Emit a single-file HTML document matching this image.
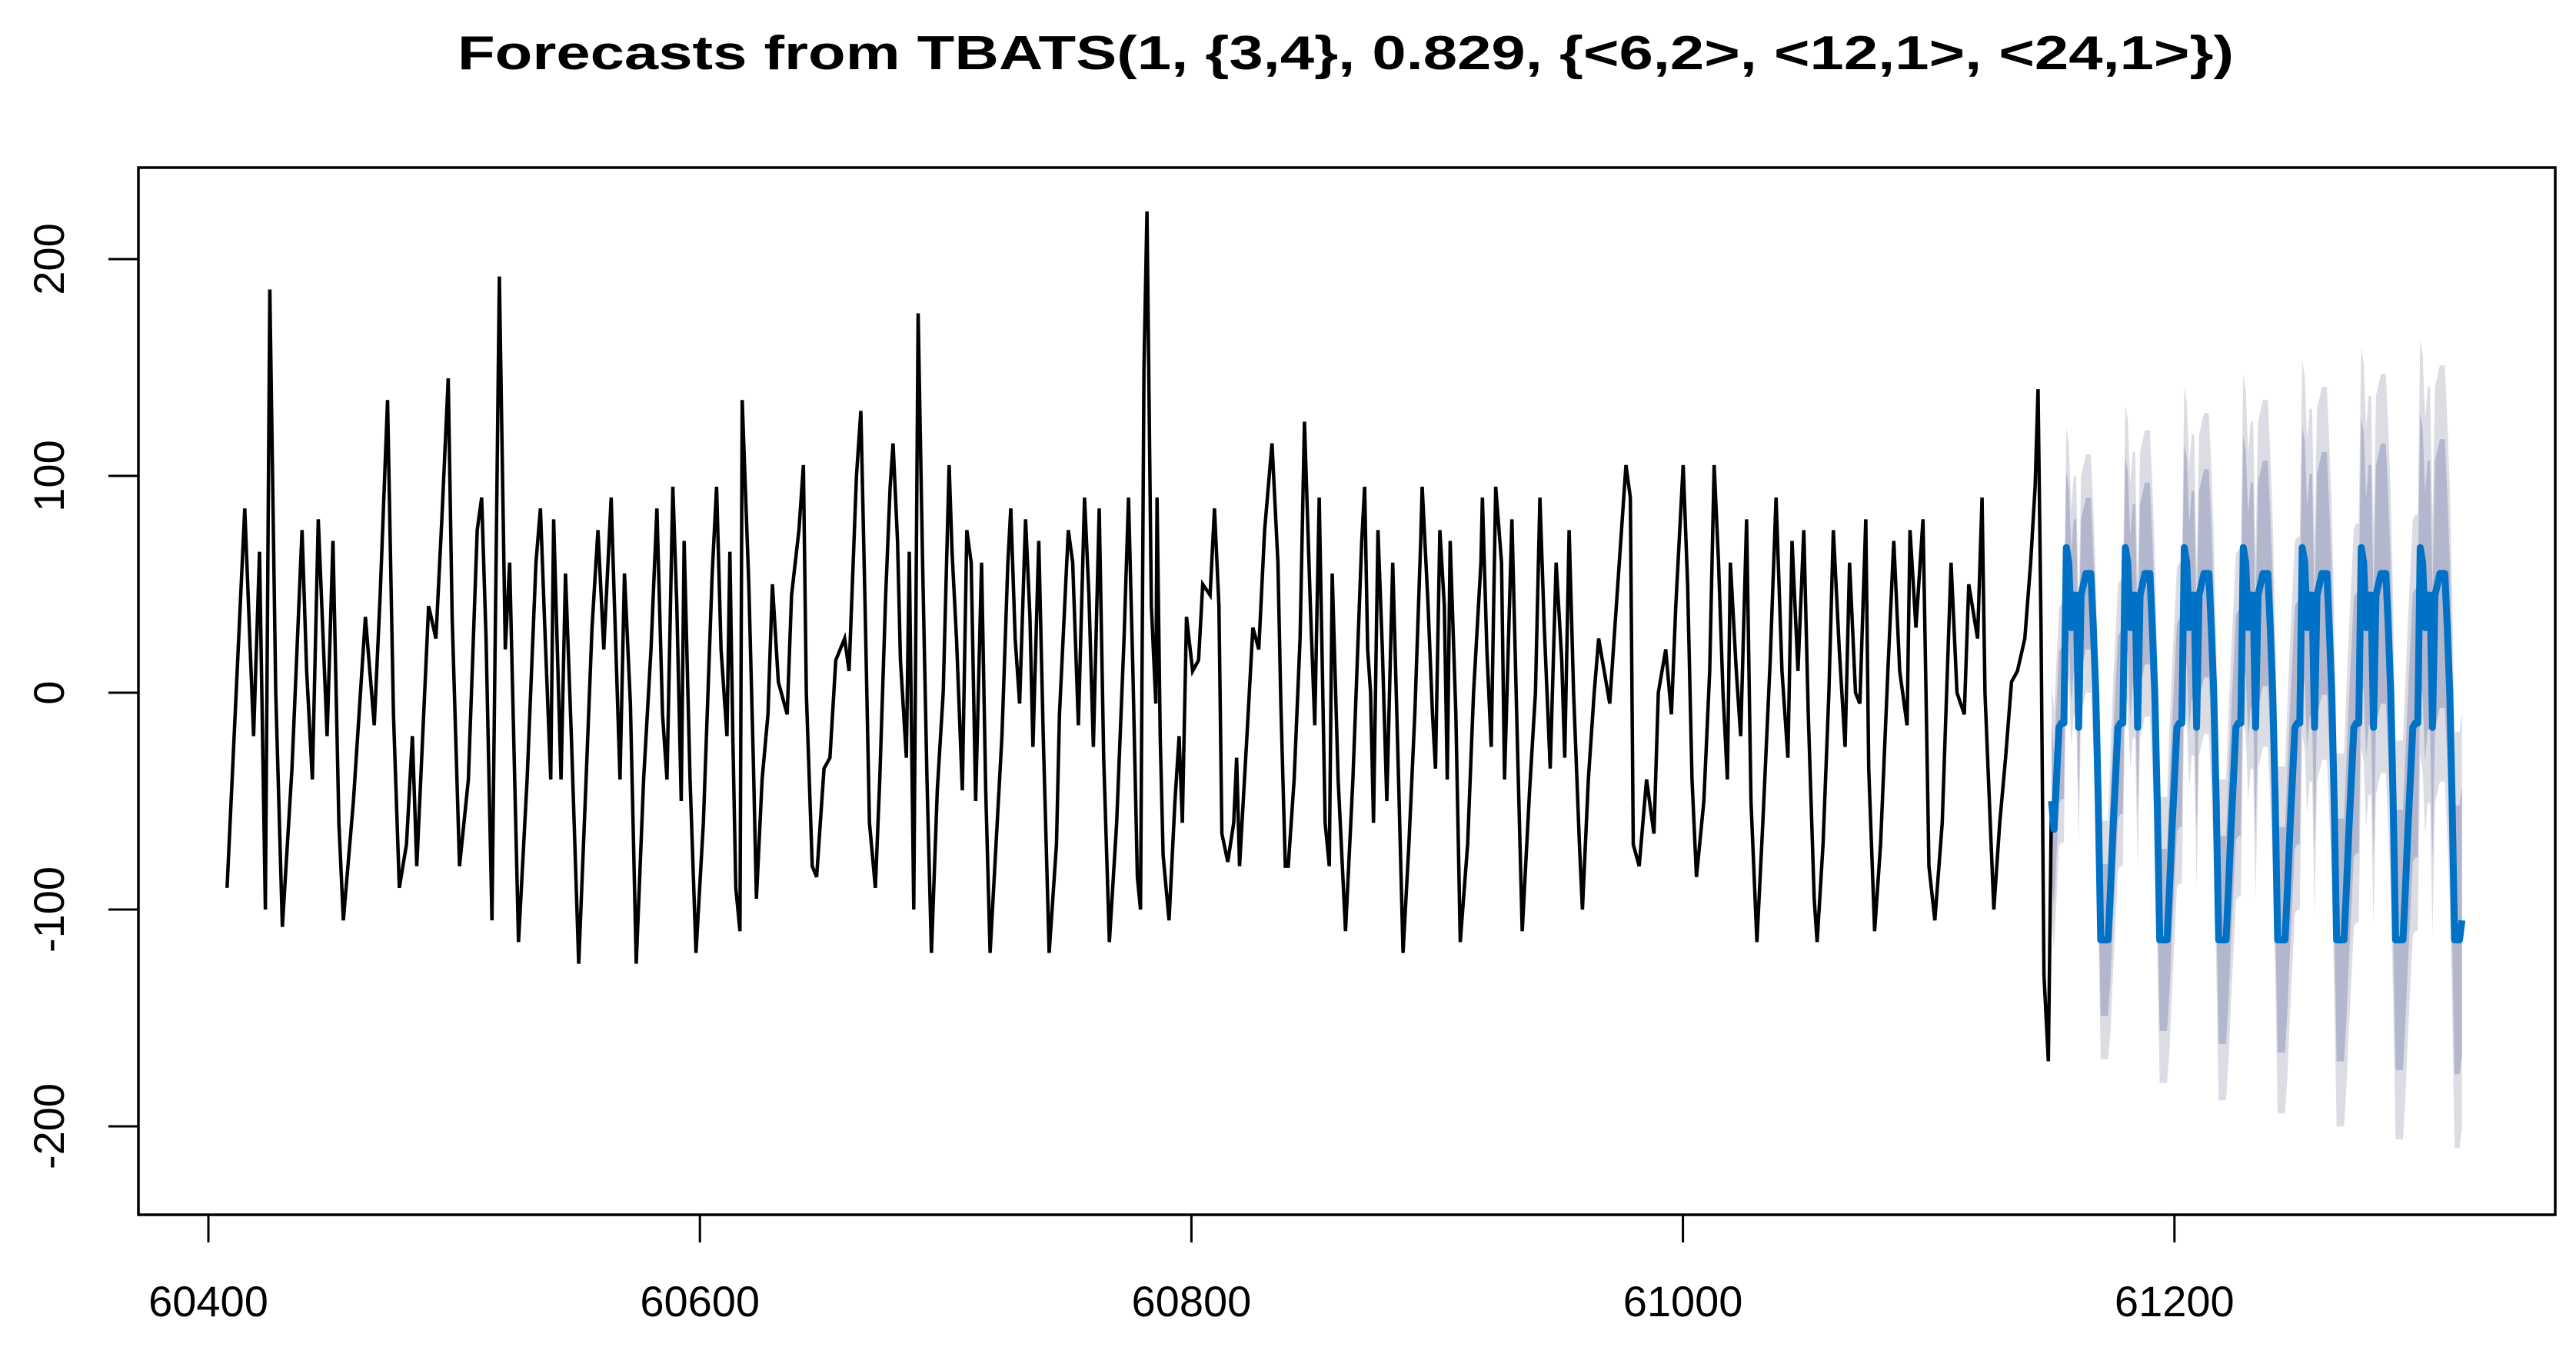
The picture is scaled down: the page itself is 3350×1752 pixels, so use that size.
<!DOCTYPE html>
<html><head><meta charset="utf-8">
<style>html,body{margin:0;padding:0;background:#fff;}svg{display:block;font-family:"Liberation Sans",Arial,sans-serif;}</style>
</head><body>
<svg id="chart" width="3350" height="1752" viewBox="0 0 3350 1752" xmlns="http://www.w3.org/2000/svg">
<rect x="0" y="0" width="3350" height="1752" fill="#fff"/>
<text x="1750" y="90" text-anchor="middle" font-size="62" font-weight="bold" textLength="2310" lengthAdjust="spacingAndGlyphs">Forecasts from TBATS(1, {3,4}, 0.829, {&lt;6,2&gt;, &lt;12,1&gt;, &lt;24,1&gt;})</text>
<g id="bands"></g>
<g id="lines"></g>
<g id="axes"></g>
<rect x="180" y="218" width="3143" height="1362" fill="none" stroke="#000" stroke-width="3.5"/>
</svg>
<script>
const histTimes = [60407.6,60414.8,60418.4,60420.8,60423.2,60425,60427.4,60430.1,60434,60438.1,60440,60442.3,60444.7,60448.3,60450.7,60453.1,60454.9,60459,60463.9,60467.5,60469.9,60472.9,60475.3,60477.7,60480.6,60483,60484.8,60489.6,60492.6,60495,60497.6,60499.2,60502.2,60505.8,60509.4,60511.2,60513,60515.4,60518.4,60520.8,60522.6,60523.8,60526.2,60529.7,60533.3,60535.1,60536.9,60539.3,60540.5,60543.5,60545.3,60547.7,60550.7,60553.7,60556.1,60558.5,60560.9,60563.9,60565.1,60567.5,60569.3,60571.7,60574.1,60577.1,60580.1,60582.5,60584.8,60586.6,60589.0,
60590.6,60592.4,60593.6,60596,60598.4,60601.4,60605,60606.8,60608.6,60611,60612.2,60613.4,60614.6,60616.3,60617.2,60619.9,60621.7,60623,60625.3,60627.7,60629.5,60631.9,60635.5,60637.3,60640.3,60642.1,60643.3,60645.7,60647.5,60650.5,60652.9,60655.3,60658.9,60660.7,60663.7,60665.5,60667.2,60669,60671.4,60673.2,60675.6,60677.4,60678.6,60680.4,60681.6,60684,60685.2,60687,60688.8,60690.6,60692.4,60694.2,60696.6,60699,60701.4,60702.6,60704.4,60706.8,60708.6,60710.4,60712.2,60714.6,60716.3,60718.1,60720.5,60722.9,60725.3,60726.5,60728.3,60730.1,60732.5,60734.3,60735.5,60737.9,60739.7,60742.1,60745.1,60746.3,60749.9,60751.7,60754,60756.5,60758.3,60760.1,60762.5,60764.3,60766.6,60769.6,60772.6,60774.4,60776.2,60778,
60779.3,60780.7,60781.9,60783.7,60785.5,60786,60787.3,60788.5,60790.9,60793.3,60795,60796.3,60798,60800.5,60802.9,60804.6,60807.6,60809.4,60811.2,60812.4,60814.8,60817.2,60818.4,60819.6,60822.6,60825,60827.4,60829.8,60832.8,60835.2,60836.4,60838.2,60839.4,60841.8,60844.2,60846,60848.4,60850.2,60852,60854.4,60856.1,60857.3,60859.7,60862.7,60865.7,60869.3,60870.5,60871.7,60872.9,60874.1,60875.9,60877.7,60879.5,60881.9,60884.3,60886.1,60888.5,60890.9,60893.3,60893.9,60896.3,60898.1,60899.3,60901.1,60902.9,60904.1,60905.3,60907.6,60909.4,60912.4,60914.8,60917.8,60918.4,60920.2,60922,60923.8,60926.2,60927.4,60930.4,60932.8,60934.6,60937.6,60940,60941.8,60943.6,60946,60948.4,60950.7,60951.9,60953.7,60955.5,60957.9,60959.1,60961.5,60963.9,60965.7,
60970.2,60972,60974.4,60976.8,60978.6,60979.8,60982.2,60985.2,60988.2,60990,60993,60995.3,60997.1,61000.1,61001.9,61003.7,61005.5,61008.5,61010.9,61012.7,61014.5,61016.3,61018.1,61019.3,61021.7,61023.5,61025.9,61027.7,61030.1,61032.5,61035.5,61037.9,61040.3,61042.7,61044.4,61046.8,61049.2,61051,61053.4,61054.6,61057,61059.4,61061.2,61063.6,61066,61067.8,61070.2,61072,61074.4,61075.6,61078,61080.4,61083.4,61085.8,61088.2,61091.2,61092.4,61094.8,61097.7,61098.9,61100.1,61102.5,61105.5,61106.7,61109.1,61111.5,61114.5,61116.3,61119.9,61121.7,61122.9,61124.7,61126.5,61128.9,61131.3,61133.7,61136.1,61139.1,61141.5,61143.3,61144.5,61145.7,61146.9,61148.7,61149.9];
const histValues = [-90,85,-20,65,-100,186,0,-108,-35,75,10,-40,80,-20,70,-60,-105,-50,35,-15,45,135,-10,-90,-70,-20,-80,40,25,80,145,35,-80,-40,75,90,25,-105,192,20,60,0,-115,-40,60,85,30,-40,80,-40,55,-20,-125,-40,30,75,20,90,45,-40,55,-5,-125,-40,20,85,-10,-40,95,
40,-50,70,-40,-120,-60,55,95,20,-20,65,-20,-90,-110,135,50,-30,-95,-40,-10,50,5,-10,45,75,105,0,-80,-85,-35,-30,15,25,10,100,130,40,-60,-90,-40,45,95,115,70,15,-30,65,-100,175,60,-40,-120,-45,0,105,65,25,-45,75,60,-50,60,-45,-120,-70,-20,60,85,25,-5,80,35,-25,70,-20,-120,-70,-10,75,60,-15,90,45,-25,85,-30,-115,-60,25,90,10,-85,
-100,150,222,40,-5,90,-20,-75,-105,-50,-20,-60,35,10,15,50,45,85,40,-65,-78,-60,-30,-80,-20,30,20,75,115,60,-5,-80,-80,-40,25,125,40,-15,90,-60,-80,55,-40,-110,-40,70,95,20,0,-60,75,20,-50,60,-40,-120,-70,-10,70,95,40,-10,-35,75,40,-40,70,-10,-115,-70,0,60,90,20,-25,95,60,-40,80,-30,-110,-45,0,90,30,-35,60,15,-30,75,0,-70,-100,-40,0,25,
-5,25,65,105,90,-70,-80,-40,-65,0,20,-10,40,105,50,-40,-85,-50,10,105,60,0,-40,60,10,-20,80,-50,-115,-60,15,90,10,-30,70,10,75,-10,-95,-115,-70,0,75,20,-25,60,0,-5,80,-35,-110,-70,10,70,10,-15,75,30,80,0,-80,-105,-60,-20,60,0,-10,50,25,90,0,-50,-100,-60,-30,5,10,25,60,95,140,30,-130,-170,-55];
const fcStart = 61150;
const fcMean = [-50,-63,-40,-16,-14,-14,67,60,30,45,45,-16,45,50,55,55,55,30,0,-50,-114,-114,-114,-114,
-90,-63,-40,-16,-14,-14,67,60,30,45,45,-16,45,50,55,55,55,30,0,-50,-114,-114,-114,-114,
-90,-63,-40,-16,-14,-14,67,60,30,45,45,-16,45,50,55,55,55,30,0,-50,-114,-114,-114,-114,
-90,-63,-40,-16,-14,-14,67,60,30,45,45,-16,45,50,55,55,55,30,0,-50,-114,-114,-114,-114,
-90,-63,-40,-16,-14,-14,67,60,30,45,45,-16,45,50,55,55,55,30,0,-50,-114,-114,-114,-114,
-90,-63,-40,-16,-14,-14,67,60,30,45,45,-16,45,50,55,55,55,30,0,-50,-114,-114,-114,-114,
-90,-63,-40,-16,-14,-14,67,60,30,45,45,-16,45,50,55,55,55,30,0,-50,-114,-114,-114,-105];
const hw80 = [35,42,48,52,56,60,62];
const hw95 = [55,66,74,80,86,92,96];
const xTicks = [60400,60600,60800,61000,61200];
const yTicks = [-200,-100,0,100,200];

const NS = 'http://www.w3.org/2000/svg';
function xs(t){ return 271 + (t - 60400) * 3.196; }
function ys(v){ return 901 - v * 2.82; }
function mk(tag, attrs, parent){ const e = document.createElementNS(NS, tag); for (const k in attrs) e.setAttribute(k, attrs[k]); parent.appendChild(e); return e; }

const bands = document.getElementById('bands');
const lines = document.getElementById('lines');
const axes = document.getElementById('axes');

function bandPath(hw){
  let up = [], lo = [];
  for (let i = 0; i < fcMean.length; i++){
    const w = hw[Math.min(hw.length - 1, Math.floor(i / 24))];
    const t = fcStart + i;
    up.push(xs(t).toFixed(1) + ',' + ys(fcMean[i] + w).toFixed(1));
    lo.unshift(xs(t).toFixed(1) + ',' + ys(fcMean[i] - w).toFixed(1));
  }
  return 'M' + up.join(' L') + ' L' + lo.join(' L') + ' Z';
}
const b95 = mk('path', {d: bandPath(hw95), fill: '#dcdce4', stroke: 'none'}, bands);


const b80 = mk('path', {d: bandPath(hw80), fill: '#b3b7cd', stroke: 'none'}, bands);



let hp = [];
for (let i = 0; i < histTimes.length; i++) hp.push(xs(histTimes[i]).toFixed(1) + ',' + ys(histValues[i]).toFixed(1));
const hl = mk('polyline', {points: hp.join(' '), fill: 'none', stroke: '#000', 'stroke-width': 4.5, 'stroke-linejoin': 'miter'}, lines);



let fp = [];
for (let i = 0; i < fcMean.length; i++){
  fp.push(xs(fcStart + i).toFixed(1) + ',' + ys(fcMean[i]).toFixed(1));
}
const fl = mk('polyline', {points: fp.join(' '), fill: 'none', stroke: '#0072c6', 'stroke-width': 9, 'stroke-linejoin': 'round'}, lines);



xTicks.forEach(function(t){
  const x = xs(t);
  const tk = mk('line', {x1: x, y1: 1580, x2: x, y2: 1616, stroke: '#000', 'stroke-width': 3}, axes);
  
  
  const lb = mk('text', {x: x, y: 1712, 'text-anchor': 'middle', 'font-size': 56, fill: '#000'}, axes);
  lb.textContent = t;
  
  
});
yTicks.forEach(function(v){
  const y = ys(v);
  const tk = mk('line', {x1: 141, y1: y, x2: 180, y2: y, stroke: '#000', 'stroke-width': 3}, axes);
  
  
  const lb = mk('text', {x: 0, y: 0, 'text-anchor': 'middle', 'font-size': 56, fill: '#000', transform: 'translate(83,' + y + ') rotate(-90)'}, axes);
  lb.textContent = v;
  
  
});
</script>
</body></html>
